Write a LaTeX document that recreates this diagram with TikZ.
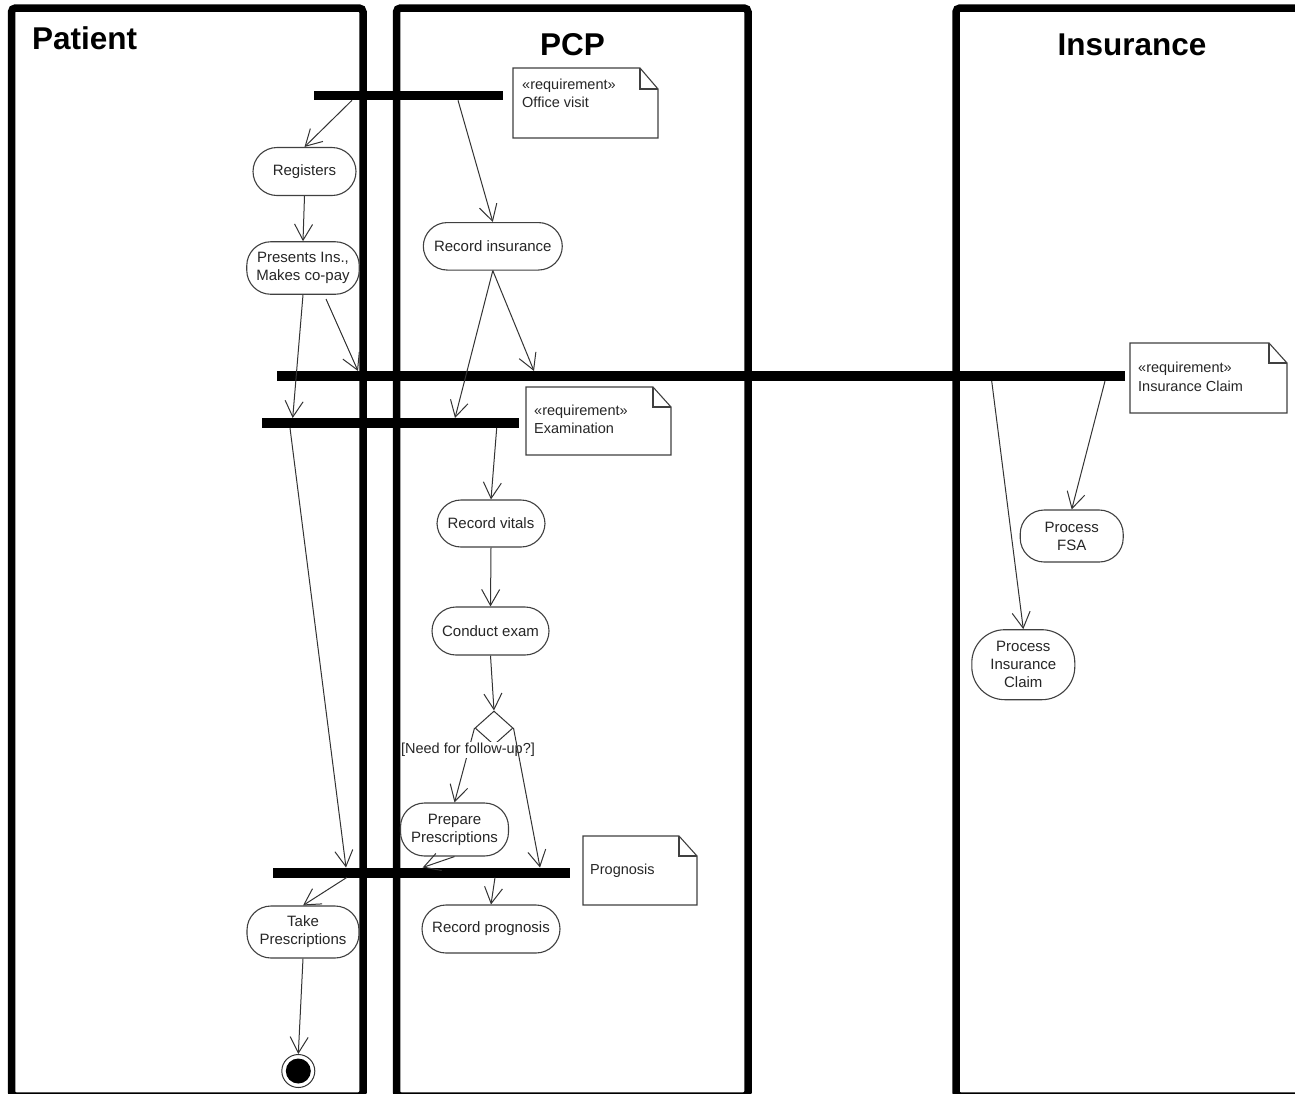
\documentclass[tikz,border=0pt]{standalone}
\usepackage{fontspec}
\setmainfont{Liberation Sans}
\usetikzlibrary{arrows.meta,shapes.geometric}
\tikzset{
  lane/.style={line width=7.5pt, rounded corners=4pt},
  act/.style={draw=black!75, line width=1.1pt, fill=white, rounded corners=24pt, align=center, inner sep=2pt, text=black!85, font=\fontsize{15pt}{18pt}\selectfont},
  barnode/.style={fill=black, inner sep=0pt, minimum height=10pt},
  flow/.style={draw=black!80, line width=1pt, -{Straight Barb[length=16pt,width=18pt]}},
  notebox/.style={draw=black!75, line width=1.1pt, fill=white, line join=miter},
  notefold/.style={draw=black!75, line width=1.1pt},
  notetext/.style={anchor=base west, inner sep=0pt, text=black!85, font=\fontsize{14.5pt}{17pt}\selectfont},
  lanetitle/.style={font=\bfseries\fontsize{31.5pt}{36pt}\selectfont, inner sep=0pt},
}
\begin{document}
\begin{tikzpicture}[x=1pt,y=-1pt]
\clip (0,0) rectangle (1295,1093);
\fill[white] (0,0) rectangle (1295,1093);
% swimlanes
\draw[lane] (11.5,8) rectangle (363,1096);
\draw[lane] (396.5,8) rectangle (748,1096);
\draw[lane] (956,8) rectangle (1330,1096);
\node[lanetitle, anchor=base west] (tpat) at (32,49.3) {Patient};
\node[lanetitle, anchor=base] (tpcp) at (572.5,55) {PCP};
\node[lanetitle, anchor=base] (tins) at (1132,55) {Insurance};
% synchronisation bars
\node[barnode, minimum width=189pt, minimum height=9.5pt] (bar1) at (408.5,95.5) {};
\node[barnode, minimum width=848.3pt] (bar3) at (700.85,376) {};
\node[barnode, minimum width=257pt] (bar2) at (390.5,423) {};
\node[barnode, minimum width=297pt] (bar4) at (421.5,872.5) {};
% notes
\draw[notebox] (513,138) -- (513,68) -- (640,68) -- (658,89) -- (658,138) -- cycle;
\draw[notefold] (640,68) |- (658,89);
\node[notetext] (n1a) at (522,89) {«requirement»};
\node[notetext] (n1b) at (522,107) {Office visit};
\draw[notebox] (526,455) -- (526,387) -- (653,387) -- (671,407) -- (671,455) -- cycle;
\draw[notefold] (653,387) |- (671,407);
\node[notetext] (n2a) at (534,415) {«requirement»};
\node[notetext] (n2b) at (534,433.5) {Examination};
\draw[notebox] (1130,413) -- (1130,343) -- (1269,343) -- (1287,363) -- (1287,413) -- cycle;
\draw[notefold] (1269,343) |- (1287,363);
\node[notetext] (n3a) at (1138,372) {«requirement»};
\node[notetext] (n3b) at (1138,391) {Insurance Claim};
\draw[notebox] (583,905) -- (583,836) -- (679,836) -- (697,856) -- (697,905) -- cycle;
\draw[notefold] (679,836) |- (697,856);
\node[notetext] (n4a) at (590,874.5) {Prognosis};
% activities
\node[act, minimum width=103pt, minimum height=48pt] (reg) at (304.5,171.5) {Registers};
\node[act, minimum width=112.5pt, minimum height=52.5pt] (pres) at (303,268) {Presents Ins.,\\Makes co-pay};
\node[act, minimum width=139pt, minimum height=47.5pt] (recins) at (492.8,246.3) {Record insurance};
\node[act, minimum width=108pt, minimum height=47pt] (vitals) at (491,523.5) {Record vitals};
\node[act, minimum width=117pt, minimum height=48pt] (exam) at (490.5,631) {Conduct exam};
\node[act, minimum width=108pt, minimum height=53pt] (prep) at (454.5,829.5) {Prepare\\Prescriptions};
\node[act, minimum width=138pt, minimum height=48pt] (prog) at (491,929) {Record prognosis};
\node[act, minimum width=112pt, minimum height=52pt] (take) at (303,932) {Take\\Prescriptions};
\node[act, minimum width=103pt, minimum height=52pt] (fsa) at (1071.7,536) {Process\\FSA};
\node[act, minimum width=103pt, minimum height=70pt, rounded corners=33pt] (pic) at (1023.3,664.7) {Process\\Insurance\\Claim};
\node[diamond, draw=black!80, line width=1pt, minimum width=38pt, minimum height=34pt, inner sep=0pt] (dec) at (494,728) {};
\node[circle, draw=black!80, line width=1pt, minimum size=33pt, inner sep=0pt] (fin) at (298.3,1071) {};
\fill[black] (fin.center) circle (12.5pt);
% connector end points on the bars
\coordinate (b1o1) at (352,100.3);
\coordinate (b1o2) at (458,100.3);
\coordinate (presx) at (326,299);
\coordinate (b3i1) at (358,371);
\coordinate (b3i2) at (534,371);
\coordinate (b3o1) at (991.7,381);
\coordinate (b3o2) at (1105,381);
\coordinate (b2i1) at (292.7,418);
\coordinate (b2i2) at (455,418);
\coordinate (b2o1) at (290,428);
\coordinate (b2o2) at (496.7,428);
\coordinate (b4i1) at (346,867.5);
\coordinate (b4i2) at (540,867.5);
\coordinate (b4i3) at (422.7,867.5);
\coordinate (b4o1) at (495,877.5);
\coordinate (b4o2) at (346.7,877.5);
% connectors
\draw[flow] (b1o1) -- (reg.north);
\draw[flow] (b1o2) -- (recins.north);
\draw[flow] (reg.south) -- (pres.north);
\draw[flow] (pres.south) -- (b2i1);
\draw[flow] (presx) -- (b3i1);
\draw[flow] (recins.south) -- (b2i2);
\draw[flow] (recins.south) -- (b3i2);
\draw[flow] (b2o1) -- (b4i1);
\draw[flow] (b2o2) -- (vitals.north);
\draw[flow] (vitals.south) -- (exam.north);
\draw[flow] (exam.south) -- (dec.north);
\draw[flow] (dec.west) -- (prep.north);
\node[fill=white, inner xsep=0.5pt, inner ysep=1.5pt, text=black!85, font=\fontsize{14.5pt}{17pt}\selectfont] (guard) at (468,750) {[Need for follow-up?]};
\draw[flow] (dec.east) -- (b4i2);
\draw[flow] (prep.south) -- (b4i3);
\draw[flow] (b4o1) -- (prog.north);
\draw[flow] (b4o2) -- (take.north);
\draw[flow] (take.south) -- (fin.north);
\draw[flow] (b3o1) -- (pic.north);
\draw[flow] (b3o2) -- (fsa.north);
\end{tikzpicture}
\end{document}
